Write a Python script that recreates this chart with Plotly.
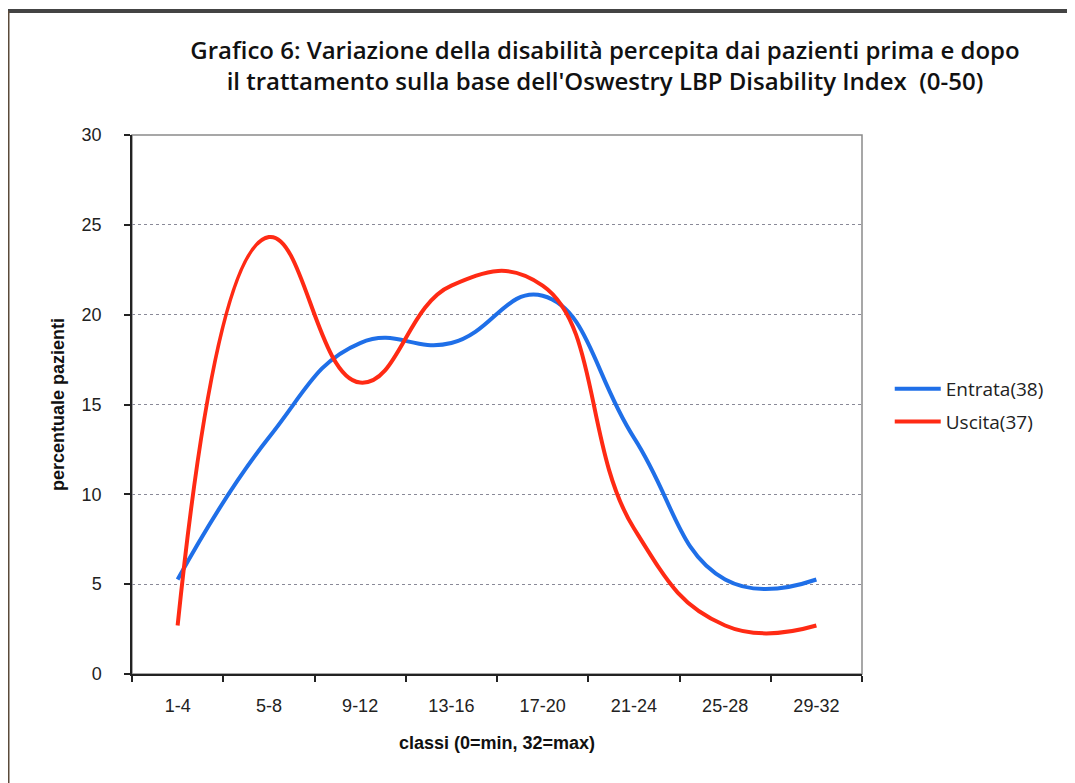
import plotly.graph_objects as go

categories = ["1-4", "5-8", "9-12", "13-16", "17-20", "21-24", "25-28", "29-32"]
entrata = [5.26, 13.16, 18.42, 18.42, 21.05, 13.16, 5.26, 5.26]
uscita = [2.70, 24.32, 16.22, 21.62, 21.62, 8.11, 2.70, 2.70]
y_ticks = [0, 5, 10, 15, 20, 25, 30]

title_text = ("Grafico 6: Variazione della disabilità percepita dai pazienti prima e dopo<br>"
              "il trattamento sulla base dell'Oswestry LBP Disability Index  (0-50)")

# page body has an 8px margin; figure is sized/placed to compensate
W, H = 1067, 775
L, R, T, B = 124, 213, 127, 109
PW = W - L - R   # 730
PH = H - T - B   # 539

fig = go.Figure()
fig.add_trace(go.Scatter(x=categories, y=entrata, name="Entrata(38)", mode="lines",
                         legendgroup="a",
                         line=dict(color="#1F6FE8", width=4, shape="spline", smoothing=1.3)))
fig.add_trace(go.Scatter(x=categories, y=uscita, name="Uscita(37)", mode="lines",
                         legendgroup="b",
                         line=dict(color="#FF2A14", width=4, shape="spline", smoothing=1.3)))

fig.update_layout(
    width=W, height=H,
    margin=dict(l=L, r=R, t=T, b=B),
    paper_bgcolor="white", plot_bgcolor="white",
    title=dict(text=title_text, x=(605 - 132) / PW, xref="paper", xanchor="center",
               y=1 - 51 / H, yref="container", yanchor="middle",
               font=dict(family="Open Sans", size=24, color="#111111", weight=600)),
    legend=dict(x=1.038, xanchor="left", y=(674 - 370) / PH, yanchor="top",
                font=dict(family="Open Sans", size=19, color="#222222"),
                bgcolor="rgba(0,0,0,0)", tracegroupgap=5, itemwidth=46),
    showlegend=True,
)

fig.update_xaxes(
    type="category", range=[-0.5, 7.5], tickson="boundaries",
    ticks="outside", ticklen=6, tickcolor="#222222", tickwidth=1.5,
    showline=True, linecolor="#222222", linewidth=1.5,
    showgrid=False, zeroline=False, ticklabelstandoff=15,
    tickfont=dict(family="Liberation Sans", size=18, color="#222222"),
    title=dict(text="<b>classi (0=min, 32=max)</b>", standoff=21,
               font=dict(family="Liberation Sans", size=18, color="#111111")),
)
fig.update_yaxes(
    range=[0, 30], tickvals=y_ticks, ticks="outside", ticklen=6,
    tickcolor="#222222", tickwidth=1.5,
    showline=True, linecolor="#222222", linewidth=1.5,
    showgrid=True, gridcolor="#8a8a98", griddash="dot", gridwidth=1,
    zeroline=False, ticklabelstandoff=19,
    tickfont=dict(family="Liberation Sans", size=18, color="#222222"),
    title=dict(text="<b>percentuale pazienti</b>", standoff=12,
               font=dict(family="Liberation Sans", size=18, color="#111111")),
)

# plot-area border (gray) and outer frame
fig.add_shape(type="rect", xref="paper", yref="paper", x0=0, y0=0, x1=1, y1=1,
              line=dict(color="#8a8a8a", width=1.5), layer="below")
fig.add_shape(type="line", xref="paper", yref="paper",
              x0=-132 / PW, x1=(1075 - 132) / PW, y0=(674 - 11) / PH, y1=(674 - 11) / PH,
              line=dict(color="#444444", width=4))
fig.add_shape(type="line", xref="paper", yref="paper",
              x0=-124 / PW, x1=-124 / PW, y0=-120 / PH, y1=(674 - 11) / PH,
              line=dict(color="#5a4a3a", width=3))

fig.write_html("out.html")
